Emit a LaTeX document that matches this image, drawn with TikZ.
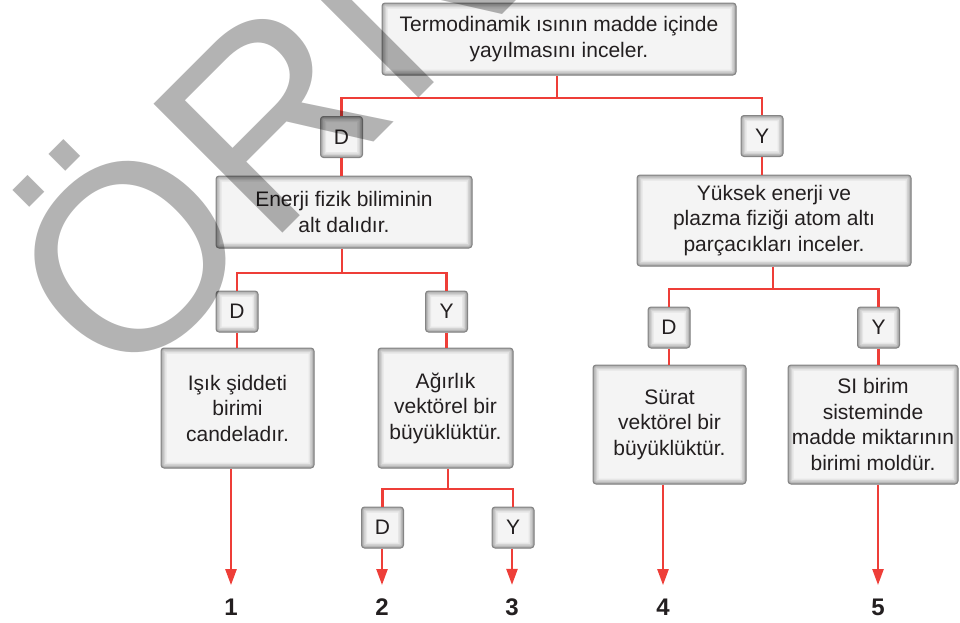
\documentclass[tikz,border=0pt]{standalone}
\usepackage{fontspec}
\setmainfont{Liberation Sans}
\usetikzlibrary{arrows.meta}
\definecolor{redline}{RGB}{238,62,56}
\definecolor{txt}{HTML}{231F20}
\definecolor{boxfill}{HTML}{F4F4F4}
\definecolor{boxedge}{HTML}{858585}
\definecolor{bevA}{HTML}{A2A2A2}
\definecolor{bevB}{HTML}{BCBCBC}
\definecolor{bevC}{HTML}{D3D3D3}
\definecolor{bevD}{HTML}{E6E6E6}
\definecolor{wmgray}{HTML}{B3B3B3}
\tikzset{
  box/.style={draw=boxedge, line width=1pt, fill=boxfill, rounded corners=3pt,
    inner sep=0pt, align=center, text=txt,
    font=\fontsize{21pt}{25.5pt}\selectfont,
    path picture={
      \draw[bevD, line width=11pt] (path picture bounding box.south west) rectangle (path picture bounding box.north east);
      \draw[bevC, line width=8pt] (path picture bounding box.south west) rectangle (path picture bounding box.north east);
      \draw[bevB, line width=5pt] (path picture bounding box.south west) rectangle (path picture bounding box.north east);
      \draw[bevA, line width=2.4pt] (path picture bounding box.south west) rectangle (path picture bounding box.north east);
    }},
  yn/.style={box, minimum width=42pt, minimum height=41pt},
  conn/.style={draw=redline, line width=2.4pt},
  arr/.style={conn, -{Triangle[length=16pt,width=11pt]}},
  num/.style={font=\fontsize{24pt}{24pt}\selectfont\bfseries, text=txt, inner sep=0pt},
  wm/.style={font=\fontsize{265pt}{265pt}\selectfont, text=wmgray,
    rotate=45, anchor=base west, inner sep=0pt}
}
\begin{document}
\begin{tikzpicture}[x=1pt, y=-1pt]
\useasboundingbox (0,0) rectangle (960,622);

% boxes
\node[box, minimum width=354pt, minimum height=72pt] (top) at (559,39) {Termodinamik ısının madde içinde\\yayılmasını inceler.};
\node[yn] (d1) at (341.5,137) {D};
\node[yn] (y1) at (762,136) {Y};
\node[box, minimum width=256pt, minimum height=72pt] (enerji) at (344,212) {Enerji fizik biliminin\\alt dalıdır.};
\node[box, minimum width=274pt, minimum height=91pt] (yuk) at (774,220.5) {Yüksek enerji ve\\plazma fiziği atom altı\\parçacıkları inceler.};
\node[yn] (d2) at (237,311.5) {D};
\node[yn] (y2) at (446.5,311.5) {Y};
\node[box, minimum width=153pt, minimum height=120pt] (isik) at (237.5,408) {Işık şiddeti\\birimi\\candeladır.};
\node[box, minimum width=135pt, minimum height=120pt] (agr) at (445.5,408) {Ağırlık\\vektörel bir\\büyüklüktür.};
\node[yn] (d3) at (382.5,527.5) {D};
\node[yn] (y3) at (513,527.5) {Y};
\node[yn] (d4) at (669,327.5) {D};
\node[yn] (y4) at (878.5,327.5) {Y};
\node[box, minimum width=153pt, minimum height=119pt] (surat) at (669.5,424.5) {Sürat\\vektörel bir\\büyüklüktür.};
\node[box, minimum width=170pt, minimum height=119pt] (si) at (873,424.5) {SI birim\\sisteminde\\madde miktarının\\birimi moldür.};

% numbers
\node[num] (n1) at (231,607) {1};
\node[num] (n2) at (382,607) {2};
\node[num] (n3) at (512,607) {3};
\node[num] (n4) at (663,607) {4};
\node[num] (n5) at (878,607) {5};

% junctions
\coordinate (j1) at (557,98);
\coordinate (j2) at (342,273);
\coordinate (j3) at (773,289);
\coordinate (j4) at (448,489);

% connectors
\draw[conn] (top.south -| j1) -- (j1);
\draw[conn] (d1.north) |- (j1) -| (y1.north);
\draw[conn] (d1.south) -- (d1.south |- enerji.north);
\draw[conn] (y1.south) -- (y1.south |- yuk.north);

\draw[conn] (enerji.south -| j2) -- (j2);
\draw[conn] (d2.north) |- (j2) -| (y2.north);
\draw[conn] (d2.south) -- (d2.south |- isik.north);
\draw[conn] (y2.south) -- (y2.south |- agr.north);

\draw[conn] (yuk.south -| j3) -- (j3);
\draw[conn] (d4.north) |- (j3) -| (y4.north);
\draw[conn] (d4.south) -- (d4.south |- surat.north);
\draw[conn] (y4.south) -- (y4.south |- si.north);

\draw[conn] (agr.south -| j4) -- (j4);
\draw[conn] (d3.north) |- (j4) -| (y3.north);

% arrows
\draw[arr] (isik.south -| n1) -- ([yshift=13.4pt]n1.north);
\draw[arr] (d3.south -| n2) -- ([yshift=13.4pt]n2.north);
\draw[arr] (y3.south -| n3) -- ([yshift=13.4pt]n3.north);
\draw[arr] (surat.south -| n4) -- ([yshift=13.4pt]n4.north);
\draw[arr] (si.south -| n5) -- ([yshift=13.4pt]n5.north);

% watermark
\begin{scope}[blend mode=multiply]
\node[wm] (wmark) at (122,394.6) {ÖRNEK};
\end{scope}
\end{tikzpicture}
\end{document}
